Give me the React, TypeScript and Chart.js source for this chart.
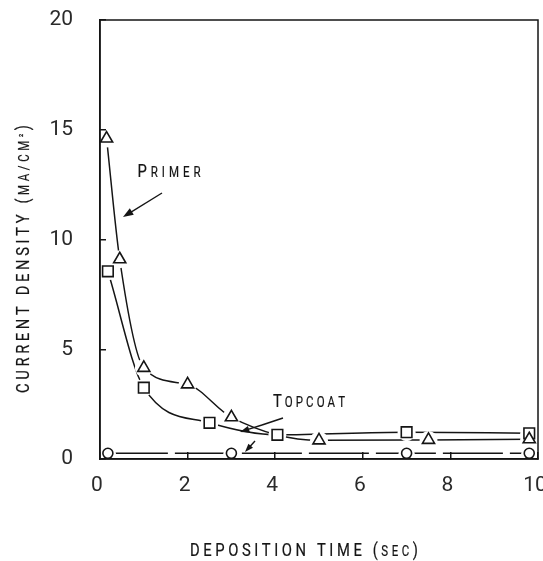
import React, { useEffect, useRef } from "react";
import { Chart, registerables } from "chart.js";

Chart.register(...registerables);

// ---- data ----
const primerTime = [0.15, 0.45, 1.0, 2.0, 3.0, 5.0, 7.5, 9.8];
const primerCurrent = [14.6, 9.1, 4.15, 3.4, 1.9, 0.85, 0.87, 0.9];
const topcoatTime = [0.18, 1.0, 2.5, 4.05, 7.0, 9.8];
const topcoatCurrent = [8.55, 3.25, 1.65, 1.1, 1.22, 1.17];
const baseTime = [0.18, 3.0, 7.0, 9.8];
const baseCurrent = [0.26, 0.26, 0.26, 0.26];
const xTickValues = [0, 2, 4, 6, 8, 10];
const yTickValues = [0, 5, 10, 15, 20];

const FAMILY = 'Roboto, "Liberation Sans", sans-serif';
const INK = "#151515";
const SQUEEZE = 0.82;

type Seg = [string, number];

function drawSegs(ctx: CanvasRenderingContext2D, segs: Seg[], cx: number, baseline: number, target: number) {
  const chars: { c: string; s: number; w: number }[] = [];
  for (const [t, s] of segs) {
    ctx.font = `${s}px ${FAMILY}`;
    for (const c of t) chars.push({ c, s, w: ctx.measureText(c).width * SQUEEZE });
  }
  const natural = chars.reduce((a, b) => a + b.w, 0);
  const spacing = chars.length > 1 ? (target - natural) / (chars.length - 1) : 0;
  let x = cx - target / 2;
  ctx.textBaseline = "alphabetic";
  ctx.textAlign = "left";
  ctx.lineWidth = 0.2;
  for (const ch of chars) {
    ctx.font = `${ch.s}px ${FAMILY}`;
    ctx.save();
    ctx.translate(x, ch.c === "²" ? baseline - 2 : baseline);
    ctx.scale(SQUEEZE, 1);
    ctx.fillText(ch.c, 0, 0);
    ctx.strokeText(ch.c, 0, 0);
    ctx.restore();
    x += ch.w + spacing;
  }
}

function arrow(ctx: CanvasRenderingContext2D, x1: number, y1: number, x2: number, y2: number, head = 9) {
  const a = Math.atan2(y2 - y1, x2 - x1);
  ctx.beginPath();
  ctx.moveTo(x1, y1);
  ctx.lineTo(x2 - Math.cos(a) * head * 0.6, y2 - Math.sin(a) * head * 0.6);
  ctx.stroke();
  ctx.beginPath();
  ctx.moveTo(x2, y2);
  ctx.lineTo(x2 - head * Math.cos(a - 0.35), y2 - head * Math.sin(a - 0.35));
  ctx.lineTo(x2 - head * Math.cos(a + 0.35), y2 - head * Math.sin(a + 0.35));
  ctx.closePath();
  ctx.fill();
}

const decorPlugin = {
  id: "decor",
  afterDraw(chart: any) {
    const { ctx, chartArea } = chart;
    ctx.save();
    ctx.strokeStyle = INK;
    ctx.fillStyle = INK;
    ctx.lineWidth = 1.5;
    ctx.strokeRect(chartArea.left, chartArea.top, chartArea.right - chartArea.left, chartArea.bottom - chartArea.top);

    ctx.save();
    ctx.translate(29, 259);
    ctx.rotate(-Math.PI / 2);
    drawSegs(ctx, [["CURRENT DENSITY (", 18], ["MA/CM", 14], ["²", 11], [")", 18]], 0, 0, 268);
    ctx.restore();

    drawSegs(ctx, [["DEPOSITION TIME (", 18], ["SEC", 14], [")", 18]], 304, 556, 228);

    drawSegs(ctx, [["P", 18], ["RIMER", 14]], 169, 177, 63);
    drawSegs(ctx, [["T", 18], ["OPCOAT", 14]], 309, 407, 72);

    ctx.lineWidth = 1.4;
    arrow(ctx, 162, 193, 123, 217, 11);
    ctx.beginPath();
    ctx.moveTo(283, 418);
    ctx.lineTo(262, 425);
    ctx.stroke();
    arrow(ctx, 262, 425, 240, 432, 10);
    arrow(ctx, 255, 441, 245, 452, 9);
    ctx.restore();
  },
};

function pts(xs: number[], ys: number[]) {
  return xs.map((x, i) => ({ x, y: ys[i] }));
}

export default function App() {
  const ref = useRef<HTMLCanvasElement | null>(null);

  useEffect(() => {
    if (!ref.current) return;
    const primer = pts(primerTime, primerCurrent);
    const topcoat = pts(topcoatTime, topcoatCurrent);
    const base = pts(baseTime, baseCurrent);

    const lineDs = (label: string, data: any[], dash: number[]) => ({
      label,
      data,
      showLine: true,
      borderColor: INK,
      borderWidth: 1.5,
      borderDash: dash,
      pointRadius: 0,
      cubicInterpolationMode: "monotone" as const,
      fill: false,
      order: 3,
    });
    const haloDs = (label: string, data: any[], r: number) => ({
      label,
      data,
      showLine: false,
      pointStyle: "circle" as const,
      pointRadius: r,
      pointBackgroundColor: "#ffffff",
      pointBorderColor: "#ffffff",
      pointBorderWidth: 0,
      order: 2,
    });
    const markDs = (label: string, data: any[], style: any, r: number) => ({
      label,
      data,
      showLine: false,
      pointStyle: style,
      pointRadius: r,
      pointBackgroundColor: "#ffffff",
      pointBorderColor: INK,
      pointBorderWidth: 1.6,
      order: 1,
    });

    const tickFont = { family: FAMILY, size: 21 };

    const chart = new Chart(ref.current, {
      type: "scatter",
      data: {
        datasets: [
          lineDs("Primer", primer, []),
          lineDs("Topcoat", topcoat, []),
          lineDs("Bare", base, [60, 7]),
          haloDs("Primer halo", primer, 9),
          haloDs("Topcoat halo", topcoat, 9),
          haloDs("Bare halo", base, 8),
          markDs("Primer points", primer, "triangle", 7),
          markDs("Topcoat points", topcoat, "rect", 7.5),
          markDs("Bare points", base, "circle", 5),
        ],
      },
      options: {
        animation: false,
        responsive: false,
        layout: { padding: { top: 20, right: 22, left: 0, bottom: 0 } },
        plugins: { legend: { display: false }, tooltip: { enabled: false } },
        scales: {
          x: {
            type: "linear",
            min: 0,
            max: 10,
            afterBuildTicks: (s: any) => {
              s.ticks = xTickValues.map((v) => ({ value: v }));
            },
            afterFit: (s: any) => {
              s.height = 102;
              s.paddingLeft = 0;
              s.paddingRight = 0;
            },
            grid: { drawOnChartArea: false, drawTicks: true, tickLength: -7, color: INK, lineWidth: 1.5, z: 1 },
            border: { display: true, color: INK, width: 1.5, z: 1 },
            ticks: { padding: 21, labelOffset: -3, color: "#2a2a2a", font: tickFont, maxRotation: 0, autoSkip: false },
          },
          y: {
            type: "linear",
            min: 0,
            max: 20,
            afterBuildTicks: (s: any) => {
              s.ticks = yTickValues.map((v) => ({ value: v }));
            },
            afterFit: (s: any) => {
              s.width = 100;
              s.paddingTop = 0;
              s.paddingBottom = 0;
            },
            grid: { drawOnChartArea: false, drawTicks: true, tickLength: -6, color: INK, lineWidth: 1.5, z: 1 },
            border: { display: true, color: INK, width: 1.5, z: 1 },
            ticks: { padding: 33, color: "#2a2a2a", font: tickFont, autoSkip: false },
          },
        },
      },
      plugins: [decorPlugin],
    } as any);
    return () => chart.destroy();
  }, []);

  return (
    <div style={{ position: "absolute", left: 0, top: 0, width: 543, height: 561, overflow: "hidden", background: "#fff" }}>
      <canvas ref={ref} width={560} height={561} style={{ display: "block" }} />
    </div>
  );
}
